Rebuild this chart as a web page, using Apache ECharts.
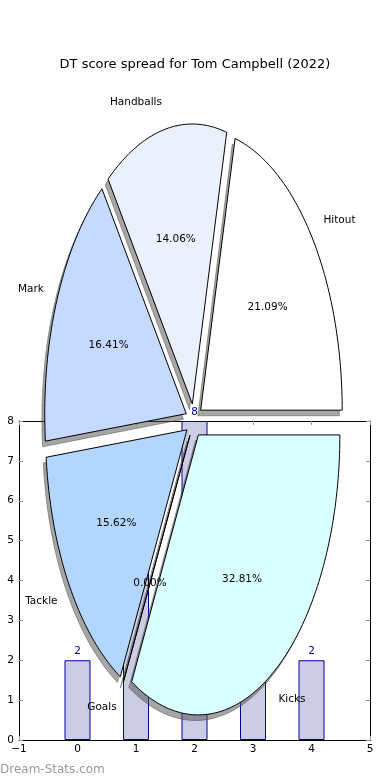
<!DOCTYPE html>
<html><head><meta charset="utf-8">
<script src="https://cdn.jsdelivr.net/npm/echarts@6/dist/echarts.min.js"></script>
<style>html,body{margin:0;padding:0;background:#fff}#c{width:390px;height:780px}</style>
</head><body><div id="c"></div>
<script>
const titleText = 'DT score spread for Tom Campbell (2022)';
const pieLabels = ['Hitout', 'Handballs', 'Mark', 'Tackle', 'Goals', 'Kicks'];
const pieValues = [27, 18, 21, 20, 0, 42];
const pieColors = ['#ffffff', '#eaf1fd', '#c6d9ff', '#b3d6ff', '#cfe8ff', '#d9ffff'];
const barX = [0, 1, 2, 3, 4];
const barValues = [2, 5, 8, 4, 2];
const xRange = [-1, 5];
const yRange = [0, 8];
const explode = 0.06;

const FONT = '"DejaVu Sans", sans-serif';
const total = pieValues.reduce((a, b) => a + b, 0);
const starts = [];
let acc = 0;
pieValues.forEach(v => { starts.push(acc / total * 2 * Math.PI); acc += v; });

// percent formatting with round-half-even (like Python's '%1.2f')
function fmtPct(p) {
  const s = p * 100;
  const f = Math.floor(s);
  const d = s - f;
  let n;
  if (Math.abs(d - 0.5) < 1e-9) n = (f % 2 === 0) ? f : f + 1;
  else n = Math.round(s);
  return (n / 100).toFixed(2) + '%';
}

function renderPie(params, api) {
  const i = api.value(0);
  const v = api.value(1);
  const a0 = starts[i], a1 = a0 + v / total * 2 * Math.PI, am = (a0 + a1) / 2;
  const ox = explode * Math.cos(am), oy = explode * Math.sin(am);
  const n = Math.max(2, Math.ceil((a1 - a0) / (Math.PI / 180)));
  const pd = [[ox, oy]];
  for (let k = 0; k <= n; k++) {
    const a = a0 + (a1 - a0) * k / n;
    pd.push([ox + Math.cos(a), oy + Math.sin(a)]);
  }
  const pts = pd.map(p => api.coord(p));
  const sh = pd.map(p => api.coord([p[0] - 0.02, p[1] - 0.02]));
  const lab = api.coord([ox + 1.1 * Math.cos(am), oy + 1.1 * Math.sin(am)]);
  const pct = api.coord([ox + 0.6 * Math.cos(am), oy + 0.6 * Math.sin(am)]);
  return {
    type: 'group',
    children: [
      { type: 'polygon', shape: { points: sh }, z2: 1,
        style: { fill: 'rgba(77,77,77,0.5)', stroke: 'rgba(77,77,77,0.5)', lineWidth: 1 } },
      { type: 'polygon', shape: { points: pts }, z2: 10,
        style: { fill: pieColors[i], stroke: '#000', lineWidth: 1 } },
      { type: 'text', x: lab[0], y: lab[1], z2: 20,
        style: { text: pieLabels[i], align: Math.cos(am) > 0 ? 'left' : 'right', verticalAlign: 'middle',
                 font: '10.5px ' + FONT, fill: '#000' } },
      { type: 'text', x: pct[0], y: pct[1], z2: 20,
        style: { text: fmtPct(v / total * 100), align: 'center', verticalAlign: 'middle',
                 font: '10.5px ' + FONT, fill: '#000' } }
    ]
  };
}

const minusFmt = v => (v < 0 ? '\u2212' + (-v) : String(v));
const tickStyle = { show: true, inside: true, length: 4, lineStyle: { color: '#999', width: 1 } };
const lineStyle = { show: true, onZero: false, lineStyle: { color: '#000', width: 1 } };
const labelStyle = { color: '#000', fontSize: 10.5, fontFamily: FONT, formatter: minusFmt };

const chart = echarts.init(document.getElementById('c'), null, { renderer: 'canvas' });
chart.setOption({
  animation: false,
  backgroundColor: '#fff',
  title: {
    text: titleText, left: 'center', top: 53,
    textStyle: { fontFamily: FONT, fontSize: 13, fontWeight: 'normal', color: '#000' }
  },
  graphic: [{
    type: 'text', left: 0, top: 764,
    style: { text: 'Dream-Stats.com', fill: '#999', font: '12px ' + FONT }
  }],
  grid: [
    { left: 19, top: 421, width: 351, height: 319, outerBoundsMode: 'none' },
    { left: 52.5, top: 140.5, width: 283, height: 560, outerBoundsMode: 'none' }
  ],
  xAxis: [
    { gridIndex: 0, type: 'value', min: xRange[0], max: xRange[1], interval: 1, position: 'bottom',
      axisLine: lineStyle, axisTick: tickStyle, axisLabel: Object.assign({ margin: 4 }, labelStyle),
      splitLine: { show: false } },
    { gridIndex: 0, type: 'value', min: xRange[0], max: xRange[1], interval: 1, position: 'top',
      axisLine: lineStyle, axisTick: tickStyle, axisLabel: { show: false }, splitLine: { show: false } },
    { gridIndex: 1, type: 'value', min: -1, max: 1, show: false }
  ],
  yAxis: [
    { gridIndex: 0, type: 'value', min: yRange[0], max: yRange[1], interval: 1, position: 'left',
      axisLine: lineStyle, axisTick: tickStyle, axisLabel: Object.assign({ margin: 5 }, labelStyle),
      splitLine: { show: false } },
    { gridIndex: 0, type: 'value', min: yRange[0], max: yRange[1], interval: 1, position: 'right',
      axisLine: lineStyle, axisTick: tickStyle, axisLabel: { show: false }, splitLine: { show: false } },
    { gridIndex: 1, type: 'value', min: -1, max: 1, show: false }
  ],
  series: [
    {
      type: 'bar', xAxisIndex: 0, yAxisIndex: 0, z: 2,
      data: barX.map((x, i) => [x, barValues[i]]),
      barWidth: 26,
      itemStyle: { color: '#ccccE4', borderColor: '#0000a0', borderWidth: 1 },
      label: { show: true, position: 'top', distance: 3, color: '#00008b', fontSize: 10.5, fontFamily: FONT }
    },
    {
      type: 'custom', xAxisIndex: 2, yAxisIndex: 2, z: 3, clip: false,
      data: pieValues.map((v, i) => [i, v]),
      renderItem: renderPie
    }
  ]
});
</script>
</body></html>
